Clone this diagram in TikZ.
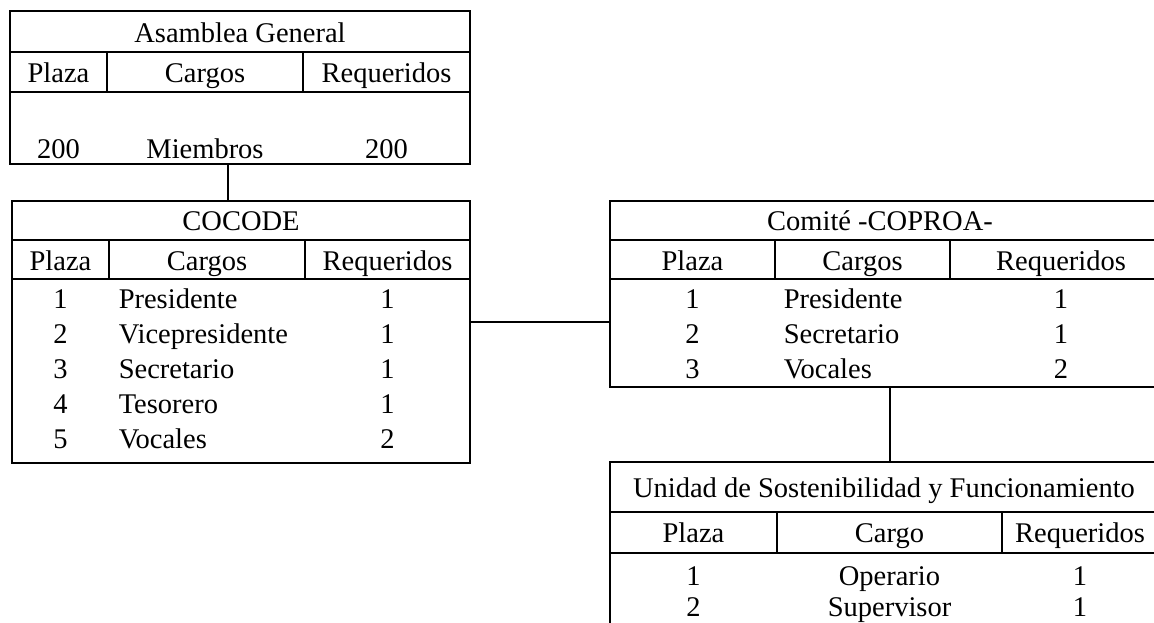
\documentclass[tikz,border=0pt]{standalone}
\usepackage{fontspec}
\setmainfont{Liberation Serif}
\begin{document}
\begin{tikzpicture}[x=1pt, y=-1pt, line width=1.5pt,
    caja/.style={draw, rectangle, inner sep=0pt, outer sep=0pt},
    texto/.style={inner sep=0pt, anchor=base, font=\fontsize{28.5}{34}\selectfont},
    izq/.style={texto, anchor=base west}]
    \useasboundingbox (0,0) rectangle (1154,622);

    % Asamblea General
    \node[caja, minimum width=460pt, minimum height=153pt] (asam) at (240,87.5) {};
    \draw (10,52) -- (470,52);
    \draw (10,92) -- (470,92);
    \draw (107,52) -- (107,92);
    \draw (303,52) -- (303,92);
    \node[texto] (asamTit) at (240,42) {Asamblea General};
    \node[texto] (asamPla) at (58.5,82) {Plaza};
    \node[texto] (asamCar) at (205,82) {Cargos};
    \node[texto] (asamReq) at (386.5,82) {Requeridos};
    \node[texto] (asamN) at (58.5,158) {200};
    \node[texto] (asamM) at (205,158) {Miembros};
    \node[texto] (asamR) at (386.5,158) {200};

    % COCODE
    \node[caja, minimum width=458pt, minimum height=262pt] (cocode) at (241,332) {};
    \draw (12,240) -- (470,240);
    \draw (12,279) -- (470,279);
    \draw (109,240) -- (109,279);
    \draw (305,240) -- (305,279);
    \node[texto] (cocTit) at (241,230) {COCODE};
    \node[texto] (cocPla) at (60.5,270) {Plaza};
    \node[texto] (cocCar) at (207,270) {Cargos};
    \node[texto] (cocReq) at (387.5,270) {Requeridos};
    \foreach \n/\cargo/\req [count=\i] in {1/Presidente/1, 2/Vicepresidente/1,
        3/Secretario/1, 4/Tesorero/1, 5/Vocales/2} {
        \node[texto] (cocN\i) at (60.5,273+35*\i) {\n};
        \node[izq] (cocC\i) at (118,273+35*\i) {\cargo};
        \node[texto] (cocR\i) at (387.5,273+35*\i) {\req};
    }

    % Comite -COPROA-
    \node[caja, minimum width=550pt, minimum height=186pt] (coproa) at (885,294) {};
    \draw (610,240) -- (1160,240);
    \draw (610,279) -- (1160,279);
    \draw (775,240) -- (775,279);
    \draw (950,240) -- (950,279);
    \node[texto] (copTit) at (880,230) {Comité -COPROA-};
    \node[texto] (copPla) at (692.5,270) {Plaza};
    \node[texto] (copCar) at (862.5,270) {Cargos};
    \node[texto] (copReq) at (1061,270) {Requeridos};
    \foreach \n/\cargo/\req [count=\i] in {1/Presidente/1, 2/Secretario/1, 3/Vocales/2} {
        \node[texto] (copN\i) at (692.5,273+35*\i) {\n};
        \node[izq] (copC\i) at (783,273+35*\i) {\cargo};
        \node[texto] (copR\i) at (1061,273+35*\i) {\req};
    }

    % Unidad de Sostenibilidad y Funcionamiento
    \node[caja, minimum width=548pt, minimum height=178pt] (unidad) at (884,551) {};
    \draw (610,512) -- (1158,512);
    \draw (610,553) -- (1158,553);
    \draw (777,512) -- (777,553);
    \draw (1002,512) -- (1002,553);
    \node[texto] (uniTit) at (884,497) {Unidad de Sostenibilidad y Funcionamiento};
    \node[texto] (uniPla) at (693.5,542) {Plaza};
    \node[texto] (uniCar) at (889.5,542) {Cargo};
    \node[texto] (uniReq) at (1080,542) {Requeridos};
    \foreach \n/\cargo/\req [count=\i] in {1/Operario/1, 2/Supervisor/1} {
        \node[texto] (uniN\i) at (693.5,554+31*\i) {\n};
        \node[texto] (uniC\i) at (889.5,554+31*\i) {\cargo};
        \node[texto] (uniR\i) at (1080,554+31*\i) {\req};
    }

    % Conectores
    \draw ([xshift=-12pt]asam.south) -- ([xshift=-12pt]asam.south |- cocode.north);
    \coordinate (c1) at ([yshift=10pt]cocode.east);
    \draw (c1) -- (c1 -| coproa.west);
    \coordinate (c2) at ([xshift=5pt]coproa.south);
    \draw (c2) -- (c2 |- unidad.north);
\end{tikzpicture}
\end{document}
